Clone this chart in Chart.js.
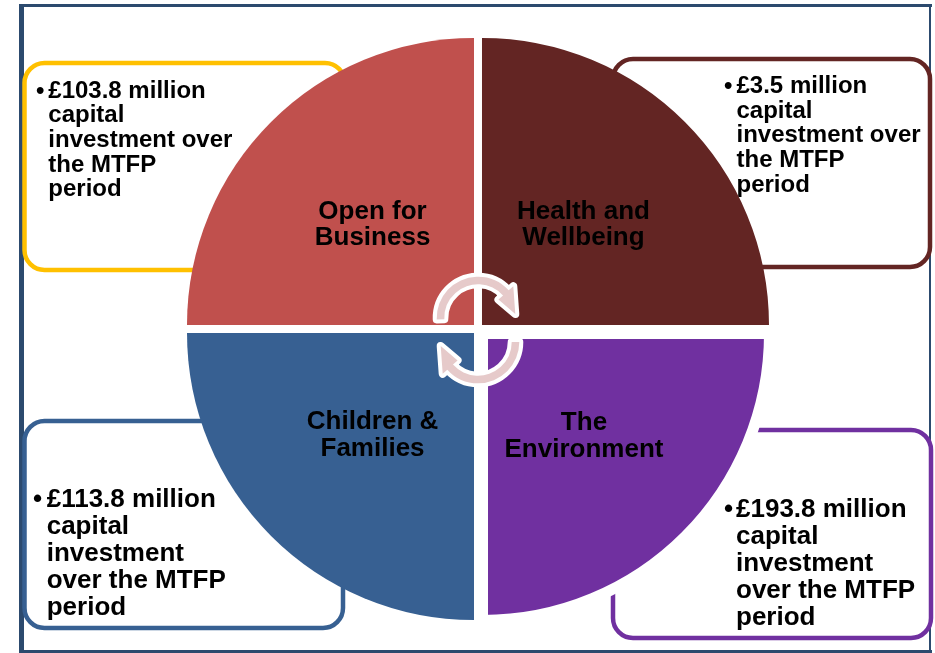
<!DOCTYPE html>
<html><head><meta charset="utf-8">
<script src="https://cdn.jsdelivr.net/npm/chart.js@4.4.1/dist/chart.umd.min.js"></script>
<style>html,body{margin:0;padding:0;background:#fff;overflow:hidden}canvas{display:block}</style>
</head><body>
<canvas id="c" width="935" height="653"></canvas>
<script>
// Quadrants, in drawing order (clockwise from 12 o'clock)
const categories = ['Health and Wellbeing', 'The Environment', 'Children & Families', 'Open for Business'];
const categoryLines = [['Health and', 'Wellbeing'], ['The', 'Environment'], ['Children &', 'Families'], ['Open for', 'Business']];
const quadrantShares = [25, 25, 25, 25];
// Capital investment over the MTFP period (£ million), one per quadrant
const investmentMillions = ['3.5', '193.8', '113.8', '103.8'];
const boxRestLines = [
  ['capital', 'investment over', 'the MTFP', 'period'],
  ['capital', 'investment', 'over the MTFP', 'period'],
  ['capital', 'investment', 'over the MTFP', 'period'],
  ['capital', 'investment over', 'the MTFP', 'period']
];
const sliceColors = ['#632523', '#7030A0', '#376092', '#C0504D'];
const boxColors = ['#632523', '#7030A0', '#376092', '#FFC000'];

// Layout of the callout boxes (styling only)
const boxLayout = [
  {x: 613, y: 59, w: 317, h: 208, tx: 736.5, bx: 724, base: 93, lh: 24.7, fs: 24},
  {x: 613, y: 430, w: 318, h: 208, tx: 736, bx: 724, base: 517, lh: 27, fs: 26},
  {x: 24.5, y: 421, w: 318.5, h: 207, tx: 46.7, bx: 33, base: 507, lh: 27, fs: 26},
  {x: 24.5, y: 63, w: 320.5, h: 207, tx: 48.3, bx: 36, base: 97.5, lh: 24.7, fs: 24}
];
const FONT = '"Liberation Sans", Arial, sans-serif';

function roundRect(ctx, x, y, w, h, r) {
  ctx.beginPath();
  ctx.moveTo(x + r, y);
  ctx.lineTo(x + w - r, y);
  ctx.arcTo(x + w, y, x + w, y + r, r);
  ctx.lineTo(x + w, y + h - r);
  ctx.arcTo(x + w, y + h, x + w - r, y + h, r);
  ctx.lineTo(x + r, y + h);
  ctx.arcTo(x, y + h, x, y + h - r, r);
  ctx.lineTo(x, y + r);
  ctx.arcTo(x, y, x + r, y, r);
  ctx.closePath();
}

const backdrop = {
  id: 'backdrop',
  beforeDatasetsDraw(chart) {
    const ctx = chart.ctx;
    ctx.save();
    // outer frame
    ctx.fillStyle = '#2C4A6E';
    ctx.fillRect(19, 4, 5, 649);
    ctx.fillRect(19, 4, 913, 3);
    ctx.fillRect(929, 4, 2, 649);
    ctx.fillRect(19, 650, 913, 3);
    boxLayout.forEach((b, i) => {
      roundRect(ctx, b.x, b.y, b.w, b.h, 20);
      ctx.fillStyle = '#fff';
      ctx.fill();
      ctx.lineWidth = 4.5;
      ctx.strokeStyle = boxColors[i];
      ctx.stroke();
      const lines = ['£' + investmentMillions[i] + ' million'].concat(boxRestLines[i]);
      ctx.fillStyle = '#000';
      ctx.font = 'bold ' + b.fs + 'px ' + FONT;
      ctx.textAlign = 'left';
      ctx.textBaseline = 'alphabetic';
      ctx.fillText('•', b.bx, b.base);
      lines.forEach((t, k) => ctx.fillText(t, b.tx, b.base + k * b.lh));
    });
    ctx.restore();
  }
};

function drawArrow(ctx, cx, cy, rc, hw, hh, a0, ab, at) {
  const P = (r, a) => [cx + r * Math.cos(a), cy + r * Math.sin(a)];
  ctx.beginPath();
  ctx.arc(cx, cy, rc + hw, a0, ab, false);
  ctx.lineTo(...P(rc + hh, ab));
  ctx.lineTo(...P(rc, at));
  ctx.lineTo(...P(rc - hh, ab));
  ctx.lineTo(...P(rc - hw, ab));
  ctx.arc(cx, cy, rc - hw, ab, a0, true);
  ctx.closePath();
  ctx.lineJoin = 'round';
  ctx.lineWidth = 8;
  ctx.strokeStyle = '#fff';
  ctx.stroke();
  ctx.fillStyle = '#E6CACA';
  ctx.fill();
}

const overlay = {
  id: 'overlay',
  afterDatasetsDraw(chart) {
    const ctx = chart.ctx;
    const meta = chart.getDatasetMeta(0);
    ctx.save();
    // quadrant titles
    ctx.fillStyle = '#000';
    ctx.font = 'bold 26px ' + FONT;
    ctx.textAlign = 'center';
    ctx.textBaseline = 'alphabetic';
    meta.data.forEach((arc, i) => {
      const p = arc.getProps(['x', 'y', 'startAngle', 'endAngle', 'outerRadius']);
      const off = (arc.options.offset || 0) / 4;
      const half = (p.startAngle + p.endAngle) / 2;
      const d = off + p.outerRadius / 2;
      const lx = p.x + Math.cos(half) * d;
      const ly = p.y + Math.sin(half) * d;
      const ls = categoryLines[i];
      ctx.fillText(ls[0], lx, ly - 5);
      ctx.fillText(ls[1], lx, ly - 5 + 26.7);
    });
    // cycle arrows in the middle
    const D = Math.PI / 180;
    const cx = (chart.chartArea.left + chart.chartArea.right) / 2;
    drawArrow(ctx, cx, 318, 37.5, 3.8, 10, 178 * D, 318 * D, 354 * D);
    drawArrow(ctx, cx, 342, 37.5, 3.8, 10, 0, 138 * D, 174 * D);
    ctx.restore();
  }
};

new Chart(document.getElementById('c'), {
  type: 'pie',
  data: {
    labels: categories,
    datasets: [{
      data: quadrantShares,
      backgroundColor: sliceColors,
      borderColor: '#fff',
      borderWidth: [0, 11, 0, 0],
      borderJoinStyle: 'miter',
      offset: [22.6, 25.5, 22.6, 22.6],
      radius: 287
    }]
  },
  options: {
    responsive: false,
    animation: false,
    events: [],
    layout: {padding: {left: 21, right: 0, top: 5, bottom: 0}},
    plugins: {legend: {display: false}, tooltip: {enabled: false}, title: {display: false}}
  },
  plugins: [backdrop, overlay]
});
</script>
</body></html>
